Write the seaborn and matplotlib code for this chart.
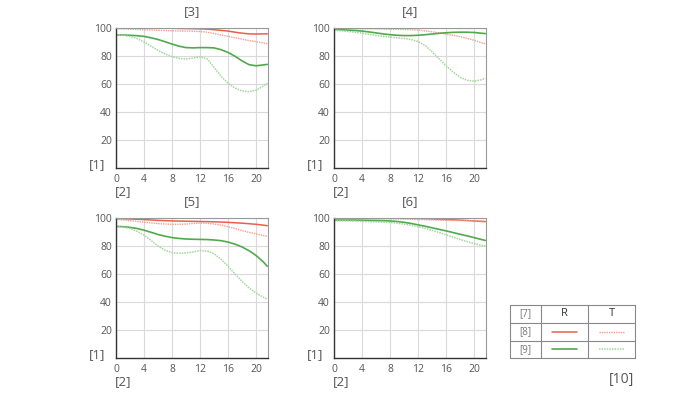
import matplotlib
matplotlib.use("Agg")
import matplotlib.pyplot as plt
import seaborn as sns
import pandas as pd

sns.set_theme(style="white")
plt.rcParams['font.family'] = ['Open Sans', 'DejaVu Sans']

x = [0, 1, 2, 3, 4, 5, 6, 7, 8, 9, 10, 11, 12, 13, 14, 15, 16, 17, 18, 19, 20, 21, 21.6]

panel_titles = ["[3]", "[4]", "[5]", "[6]"]

p3_rs = [100, 100, 100, 100, 100, 100, 100, 100, 99.8, 99.7, 99.6, 99.5, 99.4, 99.2, 98.8, 98.3, 97.8, 97, 96.3, 95.8, 95.7, 95.8, 95.8]
p3_rd = [99.5, 99.4, 99.2, 99, 98.8, 98.6, 98.4, 98.2, 98, 97.9, 97.8, 97.7, 97.5, 97, 96, 95, 94, 93, 92, 91, 90.2, 89.3, 88.8]
p3_gs = [95, 95, 94.8, 94.5, 94, 93, 91.8, 90.2, 88.5, 87, 86, 85.8, 86, 86, 85.8, 84.5, 82.5, 79.8, 76.5, 73.8, 73, 73.6, 74]
p3_gd = [95, 94.8, 94, 92.5, 90, 87, 84, 81.5, 79.5, 78.3, 77.8, 78.5, 79.5, 78, 72, 65.5, 60.5, 57, 55, 54.5, 55.5, 58.5, 60.5]

p4_rs = [100, 100, 100, 100, 100, 100, 100, 100, 100, 100, 100, 100, 100, 100, 100, 100, 100, 100, 100, 99.9, 99.9, 99.8, 99.8]
p4_rd = [99.6, 99.6, 99.6, 99.5, 99.5, 99.5, 99.4, 99.3, 99.2, 99.1, 99, 98.8, 98.5, 98, 97.3, 96.5, 95.7, 94.8, 93.8, 92.6, 91.2, 89.6, 88.7]
p4_gs = [99, 98.8, 98.5, 98.2, 97.8, 97.2, 96.5, 95.8, 95.2, 94.8, 94.6, 94.6, 94.8, 95.2, 95.7, 96.2, 96.6, 96.9, 97, 97, 96.8, 96.3, 96]
p4_gd = [98.5, 98, 97.5, 97, 96.3, 95.5, 94.7, 94, 93.5, 93, 92.6, 91.8, 90.3, 87.5, 83, 78, 73, 68.5, 64.8, 62.6, 62, 63, 64]

p5_rs = [99.5, 99.4, 99.3, 99.1, 98.9, 98.6, 98.3, 98.1, 97.9, 97.8, 97.7, 97.6, 97.5, 97.4, 97.3, 97.1, 96.9, 96.6, 96.3, 95.9, 95.5, 94.9, 94.5]
p5_rd = [99, 98.6, 98.1, 97.6, 97, 96.5, 96, 95.7, 95.5, 95.5, 95.7, 96.1, 96.4, 96.2, 95.7, 94.9, 93.8, 92.5, 91, 89.7, 88.6, 87.5, 87]
p5_gs = [94, 93.8, 93.3, 92.5, 91.3, 89.8, 88.2, 87, 86, 85.4, 85, 84.8, 84.7, 84.6, 84.3, 83.8, 82.8, 81.3, 79.3, 76.6, 73.2, 68.8, 65.5]
p5_gd = [94, 93.5, 92.5, 90.5, 87.8, 84, 80, 77, 75.3, 74.8, 75, 75.8, 76.7, 76.4, 74.5, 70.5, 65.5, 60, 54.7, 50, 46.3, 43.5, 42]

p6_rs = [100, 100, 100, 100, 100, 100, 100, 100, 100, 100, 99.9, 99.8, 99.7, 99.5, 99.3, 99.1, 98.9, 98.7, 98.5, 98.2, 97.9, 97.6, 97.4]
p6_rd = [99.5, 99.5, 99.5, 99.5, 99.5, 99.5, 99.5, 99.5, 99.4, 99.3, 99.2, 99, 98.9, 98.8, 98.6, 98.5, 98.4, 98.3, 98.2, 98.1, 98, 97.9, 97.8]
p6_gs = [98.5, 98.5, 98.5, 98.5, 98.4, 98.3, 98.2, 98.1, 97.9, 97.5, 96.9, 96.1, 95.1, 94.1, 93, 91.9, 90.8, 89.6, 88.4, 87.2, 86, 84.7, 84]
p6_gd = [98, 98, 97.9, 97.8, 97.6, 97.4, 97.2, 97, 96.8, 96.3, 95.6, 94.8, 93.8, 92.6, 91.2, 89.6, 88, 86.3, 84.7, 83.1, 81.7, 80.5, 80]

panels = [
    (p3_rs, p3_rd, p3_gs, p3_gd),
    (p4_rs, p4_rd, p4_gs, p4_gd),
    (p5_rs, p5_rd, p5_gs, p5_gd),
    (p6_rs, p6_rd, p6_gs, p6_gd),
]

x_ticks = [0, 4, 8, 12, 16, 20]
y_ticks = [20, 40, 60, 80, 100]
y_label = "[1]"
x_label = "[2]"
legend_head = ["[7]", "R", "T"]
legend_rows = ["[8]", "[9]"]
footer = "[10]"

RED = "#e8604c"
RED_L = "#f2a090"
GREEN = "#52a84e"
GREEN_L = "#a2d69c"
DOT = (0, (1, 0.7))
styles = [
    dict(color=RED, linestyle="-", linewidth=1.1),
    dict(color=RED_L, linestyle=DOT, linewidth=1.0),
    dict(color=GREEN, linestyle="-", linewidth=1.2),
    dict(color=GREEN_L, linestyle=DOT, linewidth=1.1),
]

W, H = 700, 393
fig = plt.figure(figsize=(7, 3.93), dpi=100)

pos = [(116, 28), (334, 28), (116, 218), (334, 218)]
aw, ah = 152, 140
TXT = "#555555"

for i, ((px, py), series) in enumerate(zip(pos, panels)):
    ax = fig.add_axes([px / W, 1 - (py + ah) / H, aw / W, ah / H])
    for s, st in zip(series, styles):
        sns.lineplot(x=x, y=s, ax=ax, **st)
    ax.set_xlim(0, 21.7)
    ax.set_ylim(0, 100)
    ax.set_xticks(x_ticks)
    ax.set_yticks(y_ticks)
    ax.grid(True, color="#dadada", linewidth=0.8)
    ax.tick_params(axis="both", length=0, labelsize=7.5, colors=TXT, pad=3)
    ax.xaxis.set_tick_params(pad=4)
    for sp in ["left", "bottom"]:
        ax.spines[sp].set_color("#333333")
        ax.spines[sp].set_linewidth(1.0)
    for sp in ["top", "right"]:
        ax.spines[sp].set_color("#999999")
        ax.spines[sp].set_linewidth(0.8)
    ax.set_title(panel_titles[i], fontsize=9.5, color=TXT, pad=9)
    ax.set_xlabel("")
    ax.set_ylabel("")
    fig.text((px - 19) / W, 1 - (py + ah - 3) / H, y_label, fontsize=9.5, color=TXT,
             ha="center", va="center")
    fig.text((px + 7) / W, 1 - (py + ah + 24) / H, x_label, fontsize=9.5, color=TXT,
             ha="center", va="center")

# legend table
lx0, ly0, lw, lh = 510, 305, 125, 53
lax = fig.add_axes([lx0 / W, 1 - (ly0 + lh) / H, lw / W, lh / H])
lax.set_xlim(0, lw)
lax.set_ylim(lh, 0)
lax.axis("off")
bc = "#888888"
cols = [0, 31, 78, 125]
rows = [0, 18, 35.5, 53]
for c in cols:
    lax.plot([c, c], [0, lh], color=bc, linewidth=0.8, clip_on=False)
for r in rows:
    lax.plot([0, lw], [r, r], color=bc, linewidth=0.8, clip_on=False)
lax.text(15.5, 9, legend_head[0], ha="center", va="center", fontsize=7, color="#777777")
lax.text(54.5, 9, legend_head[1], ha="center", va="center", fontsize=8, color="#333333")
lax.text(101.5, 9, legend_head[2], ha="center", va="center", fontsize=8, color="#333333")
for j, lab in enumerate(legend_rows):
    yc = (rows[j + 1] + rows[j + 2]) / 2
    lax.text(15.5, yc, lab, ha="center", va="center", fontsize=7, color="#777777")
    s_st = styles[2 * j]
    d_st = styles[2 * j + 1]
    lax.plot([42, 67], [yc, yc], **s_st)
    lax.plot([89, 114], [yc, yc], **d_st)

fig.text(622 / W, 1 - 379 / H, footer, fontsize=10, color=TXT, ha="center", va="center")

fig.savefig("out.png", dpi=100)
